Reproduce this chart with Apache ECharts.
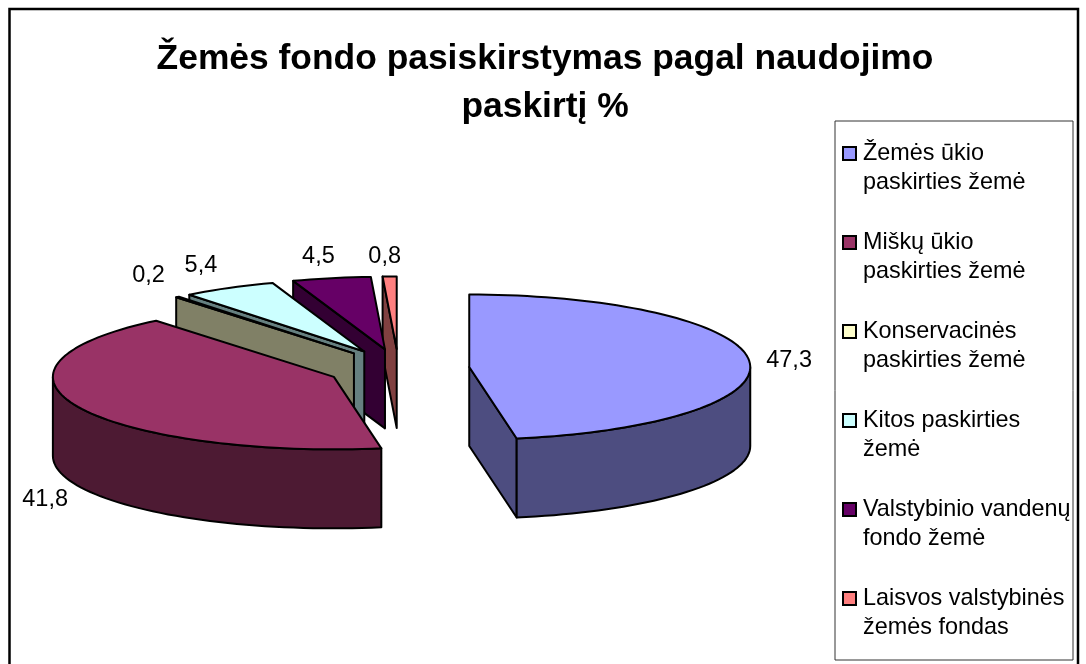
<!DOCTYPE html>
<html>
<head>
<meta charset="utf-8">
<title>Žemės fondo pasiskirstymas</title>
<script src="https://cdn.jsdelivr.net/npm/echarts@6/dist/echarts.min.js"></script>
<style>
  html, body { margin: 0; padding: 0; background: #fff; }
  #chart { width: 1086px; height: 664px; }
</style>
</head>
<body>
<div id="chart"></div>
<script>
const titleText = "Žemės fondo pasiskirstymas pagal naudojimo\npaskirtį %";
const categories = [
  "Žemės ūkio\npaskirties žemė",
  "Miškų ūkio\npaskirties žemė",
  "Konservacinės\npaskirties žemė",
  "Kitos paskirties\nžemė",
  "Valstybinio vandenų\nfondo žemė",
  "Laisvos valstybinės\nžemės fondas"
];
const values = [47.3, 41.8, 0.2, 5.4, 4.5, 0.8];
const valueLabels = ["47,3", "41,8", "0,2", "5,4", "4,5", "0,8"];
const topColors = ["#9999FF", "#993366", "#FFFFCC", "#CCFFFF", "#660066", "#FF8080"];
const sideColors = ["#4D4D80", "#4D1A33", "#808066", "#668080", "#330033", "#804040"];

const pie = { cx: 398.5, cy: 368.7, rx: 281, ry: 72.5, depth: 79, explodeX: 71, explodeY: 19.7 };
const labelNudge = [[17, 0], [-33, 14], [-29, -21], [-28, -22], [-13, -22], [-5, -20]];
const FONT = '"Liberation Sans", Arial, sans-serif';
const EDGE = 2;

const total = values.reduce((a, b) => a + b, 0);
const startAngles = [];
let running = 0;
values.forEach((v) => {
  startAngles.push((running / total) * 360);
  running += v;
});

const rad = (deg) => (deg * Math.PI) / 180;

function renderSlice(index, value) {
  const start = startAngles[index];
  const end = start + (value / total) * 360;
  const mid = (start + end) / 2;
  const cx = pie.cx + Math.sin(rad(mid)) * pie.explodeX;
  const cy = pie.cy - Math.cos(rad(mid)) * pie.explodeY;
  const at = (deg, drop) => [
    cx + Math.sin(rad(deg)) * pie.rx,
    cy - Math.cos(rad(deg)) * pie.ry + (drop || 0)
  ];
  const arc = (from, to, drop) => {
    const steps = Math.max(2, Math.ceil((to - from) / 2));
    const pts = [];
    for (let i = 0; i <= steps; i++) pts.push(at(from + ((to - from) * i) / steps, drop));
    return pts;
  };
  const side = { fill: sideColors[index], stroke: "#000", lineWidth: EDGE, lineJoin: "round" };
  const children = [];
  const radialFace = (deg) => {
    const a = at(deg);
    children.push({
      type: "polygon",
      shape: { points: [[cx, cy], a, [a[0], a[1] + pie.depth], [cx, cy + pie.depth]] },
      style: side
    });
  };

  // the cut faces only show when they look towards the viewer
  if (Math.sin(rad(start)) < -1e-6) radialFace(start);
  if (Math.sin(rad(end)) > 1e-6) radialFace(end);

  const wallFrom = Math.max(start, 90);
  const wallTo = Math.min(end, 270);
  if (wallTo > wallFrom) {
    const upper = arc(wallFrom, wallTo, 0);
    const lower = arc(wallFrom, wallTo, pie.depth).reverse();
    children.push({ type: "polygon", shape: { points: upper.concat(lower) }, style: side });
  }

  children.push({
    type: "polygon",
    shape: { points: [[cx, cy]].concat(arc(start, end, 0)) },
    style: { fill: topColors[index], stroke: "#000", lineWidth: EDGE, lineJoin: "round" }
  });

  const anchor = at(mid, mid > 90 && mid < 270 ? pie.depth : 0);
  children.push({
    type: "text",
    style: {
      text: valueLabels[index],
      x: anchor[0] + labelNudge[index][0],
      y: anchor[1] + labelNudge[index][1],
      fill: "#000",
      font: "23.5px " + FONT,
      align: index === 0 ? "left" : "center",
      verticalAlign: "middle"
    }
  });
  return { type: "group", children };
}

const series = categories.map((name, i) => ({
  name,
  type: "custom",
  coordinateSystem: "none",
  z: 10 - i,
  silent: true,
  data: [[values[i]]],
  itemStyle: { color: topColors[i], borderColor: "#000", borderWidth: 1.5 },
  renderItem: (params, api) => renderSlice(i, api.value(0))
}));

const chart = echarts.init(document.getElementById("chart"), null, { renderer: "canvas" });
chart.setOption({
  animation: false,
  backgroundColor: "#fff",
  title: {
    text: titleText,
    left: 540,
    top: 30,
    textAlign: "center",
    textStyle: { fontFamily: FONT, fontSize: 35.4, fontWeight: "bold", color: "#000", lineHeight: 48 }
  },
  legend: {
    orient: "vertical",
    left: 842,
    top: 110,
    padding: 0,
    itemGap: 2,
    itemWidth: 13,
    itemHeight: 13,
    icon: "rect",
    selectedMode: false,
    data: categories,
    // empty first line keeps the marker level with the first text line
    formatter: (name) => "\n" + name,
    textStyle: { fontFamily: FONT, fontSize: 23.4, color: "#000", lineHeight: 29, padding: [0, 0, 0, 2] }
  },
  graphic: [
    {
      type: "rect",
      z: 0,
      silent: true,
      shape: { x: 9.5, y: 9, width: 1068.5, height: 720 },
      style: { fill: "#fff", stroke: "#000", lineWidth: 2.5 }
    },
    {
      type: "rect",
      z: 1,
      silent: true,
      shape: { x: 835, y: 121, width: 238, height: 539 },
      style: { fill: "#fff", stroke: "#333", lineWidth: 1 }
    }
  ],
  series
});
</script>
</body>
</html>
